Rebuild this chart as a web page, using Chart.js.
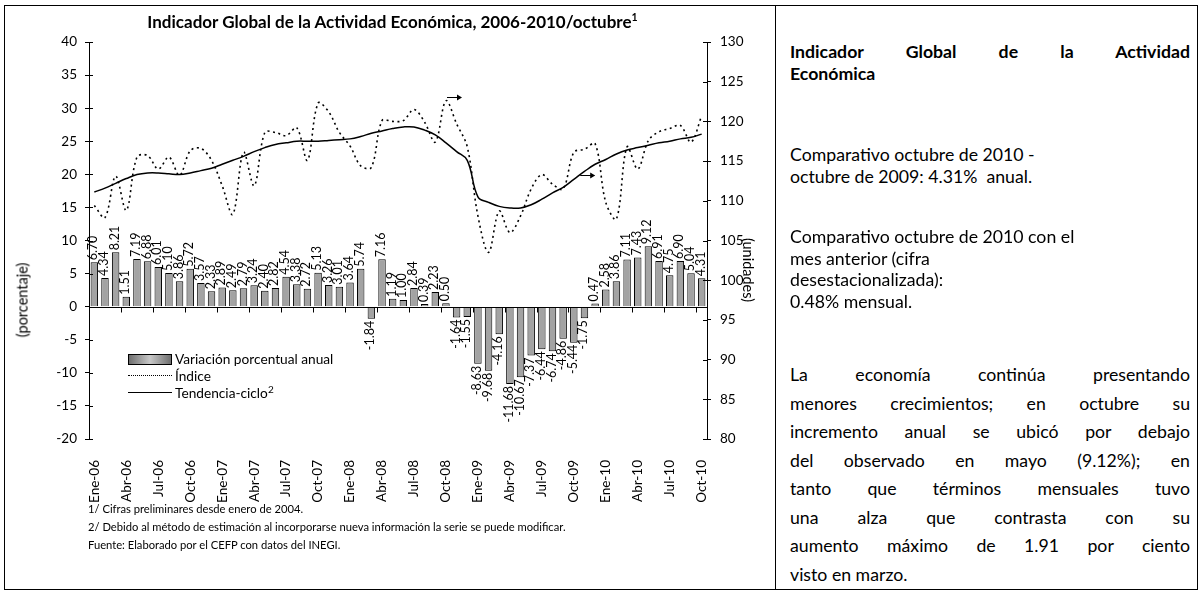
<!DOCTYPE html>
<html lang="es">
<head>
<meta charset="utf-8">
<script src="https://cdn.jsdelivr.net/npm/chart.js@4/dist/chart.umd.min.js"></script>
<style>
  html, body { margin: 0; padding: 0; background: #fff; }
  body { width: 1204px; height: 592px; position: relative; overflow: hidden; font-family: Lato, "Open Sans", sans-serif; color: #000; }
  #frame { position: absolute; left: 4px; top: 5px; width: 1194px; height: 585px; border: 1px solid #000; box-sizing: border-box; }
  #divider { position: absolute; left: 775px; top: 5px; width: 1px; height: 585px; background: #000; }
  #chartBox { position: absolute; left: 0; top: 0; width: 770px; height: 530px; }
  .abs { position: absolute; white-space: nowrap; }
  #title { left: 84px; width: 617px; top: 11px; text-align: center; font-weight: bold; font-size: 17px; }
  #title sup { font-size: 10.5px; }
  .ytitle { font-size: 14.5px; }
  #legend { left: 128px; top: 350px; font-size: 13.7px; line-height: 17px; }
  #legend .row { display: flex; align-items: center; }
  #legend .sw { width: 44px; height: 17px; position: relative; margin-right: 3px; flex: none; }
  #legend .bar { position: absolute; left: 0; top: 4px; width: 42px; height: 9px; border: 1px solid #000; background: linear-gradient(90deg, #6e6e6e, #c8c8c8 50%, #6e6e6e); }
  #legend .dot { position: absolute; left: 0; top: 8px; width: 44px; border-top: 1.5px dotted #000; }
  #legend .solid { position: absolute; left: 0; top: 8px; width: 44px; border-top: 1.5px solid #000; }
  #legend sup { font-size: 10px; position: relative; top: -3px; }
  .note { left: 88px; font-size: 11.2px; }
  #side { position: absolute; left: 790px; width: 400px; top: 41px; font-size: 17.7px; line-height: 21.5px; }
  #side .j { text-align: justify; text-align-last: justify; }
  #side .b { font-weight: bold; }
  #side p { margin: 0; position: absolute; left: 0; width: 400px; }
  #side .wide span { line-height: 28.5px; }
</style>
</head>
<body>
<div id="frame"></div>
<div id="divider"></div>
<div id="chartBox"><canvas id="chart" width="770" height="530"></canvas></div>

<div class="abs" id="title">Indicador Global de la Actividad Económica, 2006-2010/octubre<sup>1</sup></div>
<div class="abs ytitle" style="left:22px; top:300px; transform: translate(-50%,-50%) rotate(-90deg);">(porcentaje)</div>
<div class="abs ytitle" style="left:748px; top:270px; transform: translate(-50%,-50%) rotate(90deg);">(unidades)</div>

<div class="abs" id="legend">
  <div class="row"><span class="sw"><span class="bar"></span></span>Variación porcentual anual</div>
  <div class="row"><span class="sw"><span class="dot"></span></span>Índice</div>
  <div class="row"><span class="sw"><span class="solid"></span></span>Tendencia-ciclo<sup>2</sup></div>
</div>

<div class="abs note" style="top:502px;">1/ Cifras preliminares desde enero de 2004.</div>
<div class="abs note" style="top:520px;">2/ Debido al método de estimación al incorporarse nueva información la serie se puede modificar.</div>
<div class="abs note" style="top:538px;">Fuente: Elaborado por el CEFP con datos del INEGI.</div>

<div id="side">
  <p style="top:0;"><span class="b j" style="display:block;">Indicador Global de la Actividad</span><span class="b" style="display:block;">Económica</span></p>
  <p style="top:103px;">Comparativo octubre de 2010 -<br>octubre de 2009: 4.31%&nbsp; anual.</p>
  <p style="top:185px;">Comparativo octubre de 2010 con el<br>mes anterior (cifra<br>desestacionalizada):<br>0.48% mensual.</p>
  <p class="wide" style="top:320px;">
    <span class="j" style="display:block;">La economía continúa presentando</span>
    <span class="j" style="display:block;">menores crecimientos; en octubre su</span>
    <span class="j" style="display:block;">incremento anual se ubicó por debajo</span>
    <span class="j" style="display:block;">del observado en mayo (9.12%); en</span>
    <span class="j" style="display:block;">tanto que términos mensuales tuvo</span>
    <span class="j" style="display:block;">una alza que contrasta con su</span>
    <span class="j" style="display:block;">aumento máximo de 1.91 por ciento</span>
    <span style="display:block;">visto en marzo.</span>
  </p>
</div>

<script>
// months Ene-06 .. Oct-10
const meses = ['Ene', 'Feb', 'Mar', 'Abr', 'May', 'Jun', 'Jul', 'Ago', 'Sep', 'Oct', 'Nov', 'Dic'];
const years = ['06', '07', '08', '09', '10'];
const labels = [];
years.forEach(y => meses.forEach(m => labels.push(m + '-' + y)));
labels.length = 58;

// Variación porcentual anual (%)
const variacion = [
  6.70, 4.34, 8.21, 1.51, 7.19, 6.88, 6.01, 5.10, 3.86, 5.72, 3.57, 2.33,
  2.89, 2.49, 2.79, 3.24, 2.40, 2.82, 4.54, 3.38, 2.72, 5.13, 3.26, 3.01,
  3.64, 5.74, -1.84, 7.16, 1.19, 1.00, 2.84, 0.39, 2.23, 0.50, -1.64, -1.55,
  -8.63, -9.68, -4.16, -11.68, -10.67, -7.37, -6.44, -6.74, -4.86, -5.44, -1.75, 0.47,
  2.58, 3.86, 7.11, 7.43, 9.12, 6.91, 4.75, 6.90, 5.04, 4.31
];

// Índice (unidades), eje derecho
const indice = [
  109.4, 107.9, 113.1, 108.8, 115.5, 115.7, 114.0, 115.5, 113.2, 116.3, 116.6, 115.1,
  111.9, 108.3, 116.1, 111.9, 118.6, 118.6, 118.2, 119.2, 115.1, 122.3, 121.2, 118.6,
  116.9, 114.4, 114.2, 120.1, 120.0, 120.1, 121.5, 119.9, 117.4, 122.6, 119.7, 116.8,
  108.1, 103.5, 108.7, 106.0, 108.1, 111.5, 113.3, 112.1, 111.5, 116.1, 116.5, 117.2,
  109.8, 107.7, 116.8, 114.0, 117.6, 118.7, 119.1, 119.5, 117.4, 120.7
];

// Tendencia-ciclo (unidades), eje derecho
const tendencia = [
  111.1, 111.6, 112.2, 112.8, 113.3, 113.5, 113.5, 113.4, 113.3, 113.5, 113.8, 114.1,
  114.6, 115.1, 115.6, 116.2, 116.7, 117.1, 117.3, 117.5, 117.5, 117.5, 117.6, 117.7,
  117.8, 118.1, 118.5, 118.8, 119.1, 119.3, 119.3, 118.9, 118.3, 117.3, 116.2, 115.1,
  110.5, 109.8, 109.3, 109.1, 109.1, 109.5, 110.2, 111.0, 111.7, 112.7, 113.7, 114.6,
  115.2, 115.9, 116.4, 116.7, 117.0, 117.3, 117.5, 117.8, 118.0, 118.4
];

// little arrows pointing to the right axis: [category index, value on right axis]
const flechas = [[33.1, 123.1], [45.6, 113.3]];

const CHART_LEFT = 89, CHART_RIGHT = 707, CHART_TOP = 42, CHART_BOTTOM = 439;
const CANVAS_W = 770, CANVAS_H = 530;
const FONT = 'Lato, "Open Sans", sans-serif';

// zero line with a tick every three months, cross ticks on both y axes, bar labels, arrows
const extras = {
  id: 'extras',
  afterDatasetsDraw(chart) {
    const { ctx, chartArea, scales } = chart;
    const x = scales.x, y = scales.y, y1 = scales.y1;
    ctx.save();
    ctx.strokeStyle = '#000';
    ctx.lineWidth = 1;

    // zero line
    const y0 = Math.round(y.getPixelForValue(0)) + 0.5;
    ctx.beginPath();
    ctx.moveTo(chartArea.left, y0);
    ctx.lineTo(chartArea.right, y0);
    for (let i = 0; i <= labels.length; i += 3) {
      let px;
      if (i === 0) px = chartArea.left;
      else if (i >= labels.length) px = chartArea.right;
      else px = (x.getPixelForValue(i) + x.getPixelForValue(i - 1)) / 2;
      px = Math.round(px) + 0.5;
      ctx.moveTo(px, y0);
      ctx.lineTo(px, y0 + 5);
    }
    ctx.stroke();

    // inner half of the cross ticks
    ctx.beginPath();
    y.ticks.forEach(t => {
      const py = Math.round(y.getPixelForValue(t.value)) + 0.5;
      ctx.moveTo(chartArea.left, py);
      ctx.lineTo(chartArea.left + 4, py);
    });
    y1.ticks.forEach(t => {
      const py = Math.round(y1.getPixelForValue(t.value)) + 0.5;
      ctx.moveTo(chartArea.right, py);
      ctx.lineTo(chartArea.right - 4, py);
    });
    ctx.stroke();

    // bar value labels
    const meta = chart.getDatasetMeta(0);
    ctx.fillStyle = '#000';
    ctx.font = '12.5px ' + FONT;
    ctx.textBaseline = 'middle';
    meta.data.forEach((bar, i) => {
      const v = variacion[i];
      ctx.save();
      ctx.translate(bar.x - 1, v >= 0 ? bar.y - 2 : bar.y + 2);
      ctx.rotate(-Math.PI / 2);
      ctx.textAlign = v >= 0 ? 'left' : 'right';
      ctx.fillText(v.toFixed(2), 0, 0);
      ctx.restore();
    });

    // arrows
    flechas.forEach(([idx, val]) => {
      const i0 = Math.floor(idx);
      const px = x.getPixelForValue(i0) + (idx - i0) * (x.getPixelForValue(i0 + 1) - x.getPixelForValue(i0));
      const py = Math.round(y1.getPixelForValue(val)) + 0.5;
      ctx.beginPath();
      ctx.moveTo(px, py);
      ctx.lineTo(px + 14, py);
      ctx.stroke();
      ctx.beginPath();
      ctx.moveTo(px + 15, py);
      ctx.lineTo(px + 10, py - 3);
      ctx.lineTo(px + 10, py + 3);
      ctx.closePath();
      ctx.fill();
    });
    ctx.restore();
  }
};

new Chart(document.getElementById('chart'), {
  data: {
    labels,
    datasets: [
      {
        type: 'bar',
        label: 'Variación porcentual anual',
        data: variacion,
        yAxisID: 'y',
        backgroundColor: '#a3a3a3',
        borderColor: '#000',
        borderWidth: 1,
        barPercentage: 0.7,
        categoryPercentage: 1.0,
        order: 3
      },
      {
        type: 'line',
        label: 'Índice',
        data: indice,
        yAxisID: 'y1',
        borderColor: '#000',
        borderWidth: 1.6,
        borderDash: [2, 3.5],
        pointRadius: 0,
        tension: 0.35,
        order: 1
      },
      {
        type: 'line',
        label: 'Tendencia-ciclo',
        data: tendencia,
        yAxisID: 'y1',
        borderColor: '#000',
        borderWidth: 1.5,
        pointRadius: 0,
        tension: 0.4,
        order: 2
      }
    ]
  },
  options: {
    responsive: false,
    animation: false,
    layout: { padding: { top: CHART_TOP, left: 0, right: 0, bottom: 0 } },
    plugins: { legend: { display: false }, tooltip: { enabled: false }, title: { display: false } },
    scales: {
      x: {
        type: 'category',
        offset: true,
        grid: { display: false, drawTicks: false },
        border: { display: false },
        afterFit: s => { s.height = CANVAS_H - CHART_BOTTOM; },
        ticks: {
          autoSkip: false,
          maxRotation: 90,
          minRotation: 90,
          padding: 21,
          color: '#000',
          font: { family: FONT, size: 13.5 },
          callback: (v, i) => (i % 3 === 0 ? labels[i] : '')
        }
      },
      y: {
        position: 'left',
        min: -20,
        max: 40,
        afterFit: s => { s.width = CHART_LEFT; },
        grid: { drawOnChartArea: false, tickLength: 4, color: '#000' },
        border: { display: true, color: '#000', width: 1 },
        ticks: { stepSize: 5, padding: 8, color: '#000', font: { family: FONT, size: 13.5 } }
      },
      y1: {
        position: 'right',
        min: 80,
        max: 130,
        afterFit: s => { s.width = CANVAS_W - CHART_RIGHT; },
        grid: { drawOnChartArea: false, tickLength: 4, color: '#000' },
        border: { display: true, color: '#000', width: 1 },
        ticks: { stepSize: 5, padding: 9, color: '#000', font: { family: FONT, size: 13.5 } }
      }
    }
  },
  plugins: [extras]
});
</script>
</body>
</html>
